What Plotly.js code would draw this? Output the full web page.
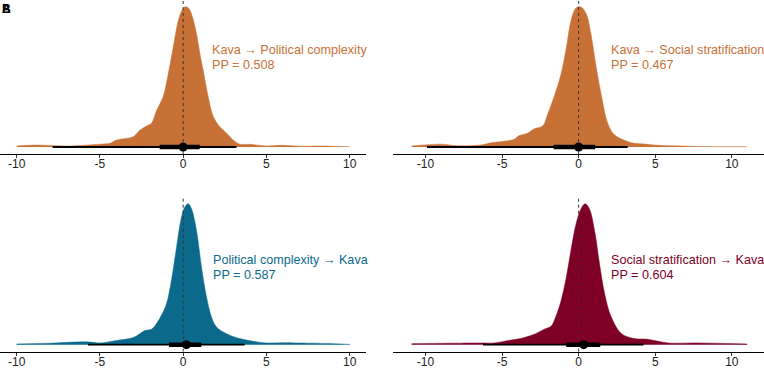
<!DOCTYPE html>
<html>
<head>
<meta charset="utf-8">
<script src="https://cdn.plot.ly/plotly-3.0.1.min.js"></script>
<style>html,body{margin:0;padding:0;background:#fff;}#chart{width:764px;height:369px;}</style>
</head>
<body>
<div id="chart"></div>
<script>
// ---- Data ----
const xTicks = [-10, -5, 0, 5, 10];

const panelTitles = ["Kava \u2192 Political complexity", "Kava \u2192 Social stratification",
                     "Political complexity \u2192 Kava", "Social stratification \u2192 Kava"];
const panelPP = ["PP = 0.508", "PP = 0.467", "PP = 0.587", "PP = 0.604"];

// density (scaled to peak = 1)
const kpcX = [-10,-8.8,-7,-5,-4.4,-4,-3,-2.6,-2.2,-1.9,-1.6,-1.2,-0.9,-0.6,-0.3,-0.1,0.1,0.3,0.5,0.8,1.0,1.2,1.5,1.8,2.2,2.6,3.0,3.4,4.0,5.0,6.0,7.0,8.0,9.0,10];
const kpcY = [0.007,0.014,0.007,0.02,0.026,0.05,0.074,0.12,0.15,0.17,0.26,0.36,0.52,0.71,0.90,0.97,1.0,0.995,0.95,0.81,0.67,0.55,0.36,0.22,0.145,0.10,0.05,0.02,0.019,0.007,0.012,0.005,0.007,0.005,0.002];

const kssX = [-10.9,-9,-7.9,-6.4,-5.7,-4.6,-4.2,-3.9,-3.3,-2.9,-2.35,-2.0,-1.6,-1.15,-0.8,-0.5,-0.16,0.16,0.5,0.8,1.15,1.5,1.9,2.35,3.2,3.65,4.3,5.2,6.7,8.9,11];
const kssY = [0.007,0.02,0.009,0.014,0.03,0.045,0.055,0.08,0.1,0.13,0.15,0.24,0.36,0.52,0.71,0.90,0.995,1.0,0.95,0.81,0.57,0.36,0.17,0.085,0.04,0.026,0.021,0.012,0.007,0.002,0.002];

const pckX = [-10,-8,-5.8,-5,-4,-3,-2.3,-1.9,-1.6,-1.3,-1.0,-0.7,-0.4,-0.1,0.1,0.3,0.5,0.8,1.1,1.4,1.7,2.0,2.6,3.4,4.2,5,6,7,9,10];
const pckY = [0.005,0.01,0.02,0.012,0.03,0.05,0.10,0.11,0.15,0.21,0.29,0.46,0.69,0.905,0.976,1.0,0.965,0.81,0.55,0.34,0.196,0.125,0.078,0.043,0.024,0.012,0.014,0.012,0.007,0.002];

const sskX = [-10.9,-8.6,-6.4,-5.5,-4.6,-3.8,-2.9,-2.24,-1.8,-1.5,-1.15,-0.8,-0.5,-0.16,0.16,0.43,0.7,1.04,1.37,1.7,2.13,2.8,3.66,4.5,5.2,5.85,7.8,11];
const sskY = [0.007,0.01,0.012,0.012,0.03,0.043,0.073,0.11,0.13,0.196,0.31,0.48,0.67,0.86,0.965,1.0,0.965,0.81,0.57,0.36,0.196,0.078,0.043,0.038,0.024,0.012,0.012,0.005];

// point intervals
const medians = [0, 0, 0.19, 0.33];
const lo95 = [-7.84, -9.9, -5.72, -6.24];
const hi95 = [3.2, 3.2, 3.69, 4.24];
const lo66 = [-1.41, -1.63, -0.85, -0.81];
const hi66 = [0.99, 1.08, 1.09, 1.41];

// ---- Build ----
const densX = [kpcX, kssX, pckX, sskX];
const densY = [kpcY, kssY, pckY, sskY];
const colors = ["#C87137", "#C87137", "#0B6A8C", "#7F0026"];
const axSuffix = ["", "2", "3", "4"];
const xDomains = [[0, 0.4795], [0.5147, 1], [0, 0.4795], [0.5147, 1]];
const yDomains = [[0.5827, 1], [0.5827, 1], [0.0469, 0.467], [0.0469, 0.467]];
const xRanges = [[-11, 11], [-12.1, 12.1], [-11, 11], [-12.1, 12.1]];
const labelX = [1.6, 2.0, 1.65, 2.0];
const labelY1 = [0.693, 0.693, 0.60, 0.60];
const labelY2 = [0.586, 0.586, 0.496, 0.496];
const fontFam = "Liberation Sans, Arial, sans-serif";

const traces = [];
const layout = {
  width: 764, height: 369,
  margin: {l: 0, r: 0, t: 0, b: 0},
  paper_bgcolor: "#fff", plot_bgcolor: "rgba(0,0,0,0)",
  showlegend: false,
  font: {family: fontFam},
  annotations: [], shapes: []
};

for (let i = 0; i < 4; i++) {
  const xa = "x" + axSuffix[i], ya = "y" + axSuffix[i];
  traces.push({x: densX[i], y: densY[i], xaxis: xa, yaxis: ya, type: "scatter", mode: "lines",
    fill: "tozeroy", fillcolor: colors[i], line: {color: colors[i], width: 0.5, shape: "spline", smoothing: 1},
    hoverinfo: "skip"});
  traces.push({x: [0, 0], y: [-0.05, 1.05], xaxis: xa, yaxis: ya, type: "scatter", mode: "lines",
    line: {color: "#333", width: 1, dash: "dot"}, hoverinfo: "skip"});
  traces.push({x: [lo95[i], hi95[i]], y: [0, 0], xaxis: xa, yaxis: ya, type: "scatter", mode: "lines",
    line: {color: "#000", width: 1.8}, hoverinfo: "skip"});
  traces.push({x: [lo66[i], hi66[i]], y: [0, 0], xaxis: xa, yaxis: ya, type: "scatter", mode: "lines",
    line: {color: "#000", width: 4.5}, hoverinfo: "skip"});
  traces.push({x: [medians[i]], y: [0], xaxis: xa, yaxis: ya, type: "scatter", mode: "markers",
    marker: {color: "#000", size: 9}, hoverinfo: "skip"});

  layout["xaxis" + axSuffix[i]] = {
    domain: xDomains[i], range: xRanges[i], anchor: ya,
    tickmode: "array", tickvals: xTicks, ticktext: xTicks.map(String),
    showline: true, linecolor: "#000", linewidth: 1,
    ticks: "outside", ticklen: 3.5, tickcolor: "#333", tickwidth: 1,
    ticklabelstandoff: -5,
    showgrid: false, zeroline: false,
    tickfont: {size: 12, color: "#222", family: fontFam}
  };
  layout["yaxis" + axSuffix[i]] = {
    domain: yDomains[i], range: [-0.05, 1.05], anchor: xa,
    showline: false, showticklabels: false, ticks: "", showgrid: false, zeroline: false
  };
  layout.annotations.push({xref: xa, yref: ya, x: labelX[i], y: labelY1[i], text: panelTitles[i],
    showarrow: false, xanchor: "left", yanchor: "middle",
    font: {size: 12.6, color: colors[i], family: fontFam}});
  layout.annotations.push({xref: xa, yref: ya, x: labelX[i], y: labelY2[i], text: panelPP[i],
    showarrow: false, xanchor: "left", yanchor: "middle",
    font: {size: 12.6, color: colors[i], family: fontFam}});
}

// panel tags (overlapping, as in the source)
["A", "B"].forEach(function (t) {
  layout.annotations.push({xref: "paper", yref: "paper", x: 0, y: 1.0, text: "<b>" + t + "</b>",
    showarrow: false, xanchor: "left", yanchor: "top",
    font: {size: 12, color: "#000", family: fontFam}});
});

Plotly.newPlot("chart", traces, layout, {staticPlot: true, displayModeBar: false});
</script>
</body>
</html>
